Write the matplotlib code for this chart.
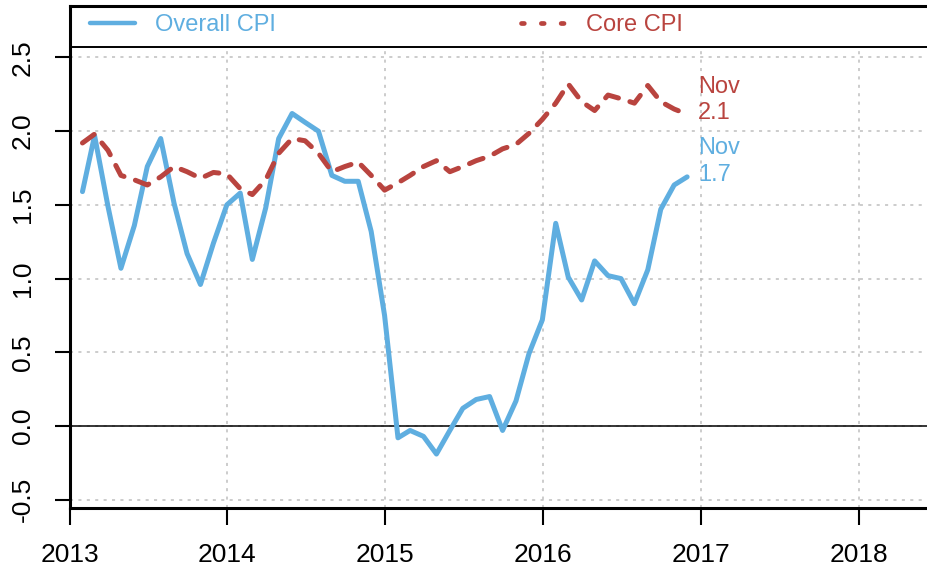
import matplotlib
matplotlib.use("Agg")
import matplotlib.pyplot as plt
import matplotlib.dates as mdates
from matplotlib.lines import Line2D
from matplotlib.patches import Rectangle
import pandas as pd
import numpy as np

plt.rcParams['font.family'] = ['Liberation Sans', 'DejaVu Sans']

# ---- data ----
dates = pd.date_range('2013-01-31', periods=47, freq='ME')
overall_cpi = [1.59, 1.97, 1.49, 1.07, 1.36, 1.76, 1.95, 1.51, 1.17, 0.96, 1.24, 1.50,
               1.58, 1.13, 1.48, 1.95, 2.12, 2.06, 2.00, 1.70, 1.66, 1.66, 1.32, 0.75,
               -0.08, -0.03, -0.07, -0.19, -0.03, 0.12, 0.18, 0.20, -0.03, 0.17, 0.49, 0.72,
               1.375, 1.01, 0.855, 1.12, 1.02, 1.00, 0.83, 1.06, 1.47, 1.635, 1.69]
core_cpi = [1.92, 1.98, 1.87, 1.70, 1.67, 1.635, 1.69, 1.76, 1.725, 1.68, 1.72, 1.71,
            1.61, 1.57, 1.67, 1.85, 1.95, 1.935, 1.85, 1.725, 1.76, 1.79, 1.70, 1.60,
            1.65, 1.70, 1.76, 1.80, 1.725, 1.76, 1.80, 1.83, 1.88, 1.91, 1.985, 2.08,
            2.19, 2.32, 2.20, 2.14, 2.245, 2.22, 2.19, 2.31, 2.20, 2.15, 2.115]
series_names = ['Overall CPI', 'Core CPI']
last_labels = ['Nov\n1.7', 'Nov\n2.1']
year_ticks = [2013, 2014, 2015, 2016, 2017, 2018]
y_ticks = [-0.5, 0.0, 0.5, 1.0, 1.5, 2.0, 2.5]
title_text = 'Percent change from a year ago'

blue = '#5FAEE0'
red = '#B9443F'

W, H = 927, 573
fig = plt.figure(figsize=(W / 100, H / 100), dpi=100)
ax_left, ax_bottom, ax_top = 69.5, 65, 567
ax = fig.add_axes([ax_left / W, ax_bottom / H, (W - ax_left) / W, (ax_top - ax_bottom) / H])

ax.plot(dates, overall_cpi, color=blue, lw=3.6, solid_capstyle='round',
        solid_joinstyle='round', zorder=3)
ax.plot(dates, core_cpi, color=red, lw=3.6, linestyle=(0, (2.9, 2.4)),
        dash_capstyle='round', dash_joinstyle='round', zorder=3)

ax.set_ylim(-0.556, 2.849)
ax.set_xlim(pd.Timestamp('2013-01-01'), pd.Timestamp('2018-06-08'))

ax.set_xticks([pd.Timestamp(f'{y}-01-01') for y in year_ticks])
ax.set_xticklabels([str(y) for y in year_ticks])
ax.set_yticks(y_ticks)
ax.set_yticklabels([f'{v:.1f}' for v in y_ticks])

# grid
ax.set_axisbelow(True)
ax.grid(True, color='#BEBEBE', lw=1.1, linestyle=(0, (2, 3.5)), zorder=0.5)
ax.axhline(0, color='black', lw=1.1, zorder=1.5)

# spines
for s in ['left', 'bottom', 'top']:
    ax.spines[s].set_linewidth(2.2)
ax.spines['right'].set_visible(False)

ax.tick_params(axis='both', labelsize=19, width=1.5, length=11, color='black')
ax.tick_params(axis='y', pad=14)
ax.tick_params(axis='x', length=12, pad=13)
for lab in ax.get_yticklabels():
    lab.set_rotation(90)
    lab.set_va('center')

# legend box
leg_line = 0.918
ax.add_patch(Rectangle((0, leg_line), 1, 1 - leg_line, transform=ax.transAxes,
                       facecolor='white', edgecolor='none', zorder=1, clip_on=False))
ax.add_line(Line2D([0, 1], [leg_line, leg_line], transform=ax.transAxes,
                   color='black', lw=1.4, zorder=4))
handles = [Line2D([], [], color=blue, lw=3.2, solid_capstyle='round'),
           Line2D([], [], color=red, lw=3.4, linestyle=(0, (0.6, 3.6)),
                  dash_capstyle='round')]
leg = ax.legend(handles, series_names, loc='center left',
                bbox_to_anchor=(0.0239, 0.962), ncol=2, frameon=False,
                fontsize=17, handlelength=1.9, handletextpad=0.85,
                columnspacing=10.4, borderpad=0, borderaxespad=0)
for txt, c in zip(leg.get_texts(), [blue, red]):
    txt.set_color(c)

# end labels
for vals, lab, c, dy in [(overall_cpi, last_labels[0], blue, 11),
                         (core_cpi, last_labels[1], red, 10)]:
    ax.annotate(lab, xy=(dates[-1], vals[-1]), xytext=(8, dy),
                textcoords='offset points', ha='left', va='center',
                color=c, fontsize=17, linespacing=1.25, zorder=5)

# cut-off title at the very top (only its lowest edge shows, as in the reference)
fig.text(88 / W, 1 + 4.5 / H, title_text, fontsize=17, ha='left', va='baseline',
         color='black')

fig.savefig('out.png', dpi=100)
